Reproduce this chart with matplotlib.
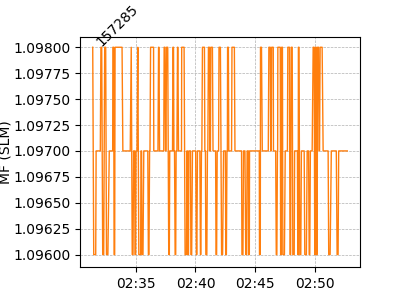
import pandas as pd
import matplotlib
matplotlib.use("Agg")
import matplotlib.pyplot as plt
import matplotlib.dates as mdates
from matplotlib.ticker import FormatStrFormatter, MultipleLocator

# Sensor id shown above the plot
sensor_id = "157285"

# Sample times (seconds after 02:31:00) and readings
seconds = [
    25, 30, 40, 42, 63, 66, 70, 75, 80, 85, 90, 94, 101, 108, 125, 126, 130, 132, 135, 137,
    172, 176, 213, 218, 223, 227, 230, 235, 237, 240, 242, 247, 251, 256, 265, 267, 270, 272,
    277, 281, 301, 304, 307, 310, 312, 315, 330, 331, 352, 355, 357, 360, 381, 383, 387, 390,
    392, 395, 401, 406, 409, 411, 425, 427, 430, 432, 435, 438, 441, 443, 447, 450, 452, 455,
    470, 471, 483, 488, 495, 497, 500, 502, 505, 507, 515, 517, 521, 525, 541, 545, 547, 550,
    562, 565, 567, 570, 572, 575, 585, 587, 590, 592, 597, 600, 602, 605, 610, 612, 615, 617,
    625, 628, 641, 643, 646, 649, 656, 658, 665, 671, 676, 681, 690, 692, 695, 698, 700, 701,
    705, 707, 721, 723, 735, 738, 771, 773, 778, 781, 788, 792, 796, 799, 805, 806, 810, 811,
    860, 861, 865, 866, 871, 875, 905, 908, 915, 917, 920, 922, 930, 931, 942, 945, 948, 951,
    952, 953, 965, 967, 970, 972, 976, 978, 986, 990, 1001, 1003, 1011, 1014, 1017, 1020, 1025,
    1028, 1035, 1037, 1051, 1053, 1055, 1056, 1059, 1063, 1068, 1071, 1085, 1088, 1096, 1100,
    1107, 1110, 1113, 1116, 1125, 1130, 1135, 1138, 1140, 1142, 1145, 1147, 1150, 1152, 1157,
    1160, 1162, 1165, 1175, 1180, 1205, 1208, 1215, 1221, 1246, 1250, 1255, 1258, 1301,
]
mf = [
    1.098, 1.096, 1.096, 1.097, 1.097, 1.098, 1.098, 1.096, 1.096, 1.098, 1.098, 1.096, 1.096, 1.097, 1.097, 1.098, 1.098, 1.096, 1.096, 1.098,
    1.098, 1.097, 1.097, 1.098, 1.096, 1.096, 1.097, 1.097, 1.096, 1.096, 1.097, 1.097, 1.098, 1.096, 1.096, 1.097, 1.097, 1.096,
    1.096, 1.097, 1.097, 1.096, 1.096, 1.097, 1.097, 1.098, 1.098, 1.097, 1.097, 1.098, 1.098, 1.097, 1.097, 1.098, 1.098, 1.097,
    1.097, 1.098, 1.098, 1.096, 1.096, 1.097, 1.097, 1.098, 1.098, 1.097, 1.097, 1.096, 1.096, 1.097, 1.097, 1.098, 1.098, 1.097,
    1.097, 1.098, 1.098, 1.096, 1.096, 1.097, 1.097, 1.096, 1.096, 1.097, 1.097, 1.096, 1.096, 1.097, 1.097, 1.096, 1.096, 1.097,
    1.097, 1.096, 1.096, 1.097, 1.097, 1.098, 1.098, 1.097, 1.097, 1.096, 1.096, 1.097, 1.097, 1.098, 1.098, 1.097, 1.097, 1.098,
    1.098, 1.097, 1.097, 1.096, 1.096, 1.097, 1.097, 1.098, 1.098, 1.096, 1.096, 1.097, 1.097, 1.096, 1.096, 1.097, 1.097, 1.098,
    1.098, 1.097, 1.097, 1.098, 1.098, 1.097, 1.097, 1.096, 1.096, 1.097, 1.097, 1.096, 1.096, 1.097, 1.097, 1.096, 1.096, 1.097,
    1.097, 1.096, 1.096, 1.098, 1.098, 1.097, 1.097, 1.098, 1.098, 1.097, 1.097, 1.098, 1.098, 1.097, 1.097, 1.096, 1.096, 1.097,
    1.097, 1.098, 1.098, 1.096, 1.096, 1.098, 1.098, 1.096, 1.096, 1.097, 1.097, 1.098, 1.098, 1.096, 1.096, 1.098, 1.098,
    1.096, 1.096, 1.097, 1.097, 1.096, 1.096, 1.098, 1.098, 1.096, 1.096, 1.097, 1.097, 1.096, 1.096, 1.097,
    1.097, 1.096, 1.096, 1.097, 1.097, 1.098, 1.098, 1.096, 1.096, 1.098, 1.098, 1.096, 1.096, 1.098, 1.098,
    1.097, 1.097, 1.098, 1.098, 1.097, 1.097, 1.096, 1.096, 1.097, 1.097, 1.096, 1.096, 1.097, 1.097,
]

t0 = pd.Timestamp("2024-01-01 02:31:00")
times = t0 + pd.to_timedelta(seconds, unit="s")

fig = plt.figure(figsize=(4, 3), dpi=100)
ax = fig.add_axes([0.2, 0.11, 0.7, 0.767])

ax.plot(times, mf, color="tab:orange", linewidth=1)

ax.xaxis.set_major_locator(mdates.MinuteLocator(byminute=range(0, 60, 5)))
ax.xaxis.set_major_formatter(mdates.DateFormatter("%H:%M"))
ax.yaxis.set_major_locator(MultipleLocator(0.00025))
ax.yaxis.set_major_formatter(FormatStrFormatter("%.5f"))
ax.set_ylim(1.09588, 1.09810)

ax.grid(True, linestyle="--", linewidth=0.5, color="#b0b0b0")
ax.set_ylabel("MF (SLM)")
ax.yaxis.set_label_coords(-0.24, 0.5)

ax.text(0.048, 0.945, sensor_id, transform=ax.transAxes, rotation=45,
        ha="left", va="bottom", fontsize=10)

plt.savefig("out.png", dpi=100)
